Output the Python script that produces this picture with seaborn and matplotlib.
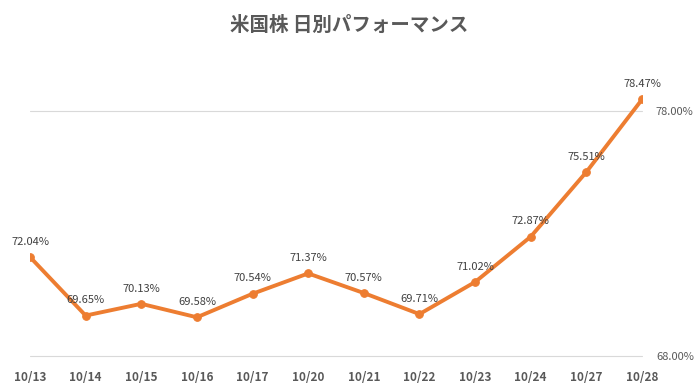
import numpy as np
import pandas as pd
import seaborn as sns
import matplotlib.pyplot as plt

# Data
dates = ['10/13', '10/14', '10/15', '10/16', '10/17', '10/20',
         '10/21', '10/22', '10/23', '10/24', '10/27', '10/28']
perf = [72.04, 69.65, 70.13, 69.58, 70.54, 71.37,
        70.57, 69.71, 71.02, 72.87, 75.51, 78.47]
title = '米国株 日別パフォーマンス'

df = pd.DataFrame({'pos': np.arange(len(dates)), 'date': dates, 'perf': perf})

sns.set_style('white')
plt.rcParams['font.family'] = ['Noto Sans CJK JP', 'DejaVu Sans']

fig = plt.figure(figsize=(6.98, 3.92), dpi=100)
ax = fig.add_axes([30 / 698, 36 / 392, 612 / 698, 294 / 392])

sns.lineplot(data=df, x='pos', y='perf', ax=ax, color='#ED7D31',
             linewidth=2.8, marker='o', markersize=5.5,
             markeredgecolor='#ED7D31', zorder=3)

# Data labels above each point
for x, y in zip(df['pos'], df['perf']):
    ax.annotate(f'{y:.2f}%', (x, y), xytext=(0, 11), textcoords='offset points',
                ha='center', va='center', fontsize=8, color='#404040')

ax.set_xlim(0, len(dates) - 1)
ax.set_ylim(68, 80)
ax.set_xticks(df['pos'])
ax.set_xticklabels(dates, fontsize=8.5, fontweight='bold', color='#595959')
ax.set_yticks([68, 78])
ax.set_yticklabels(['68.00%', '78.00%'], fontsize=8, color='#595959')
ax.yaxis.tick_right()
ax.tick_params(axis='y', length=0, pad=10)
ax.tick_params(axis='x', length=0, pad=11)
ax.grid(axis='y', color='#d9d9d9', linewidth=0.8)
for gl in ax.get_ygridlines():
    gl.set_clip_on(False)
ax.set_axisbelow(True)
for s in ax.spines.values():
    s.set_visible(False)
ax.set_xlabel('')
ax.set_ylabel('')

fig.suptitle(title, x=0.5, y=1 - 25 / 392, va='center', fontsize=14,
             fontweight='bold', color='#595959')

fig.savefig('out.png', dpi=100)
